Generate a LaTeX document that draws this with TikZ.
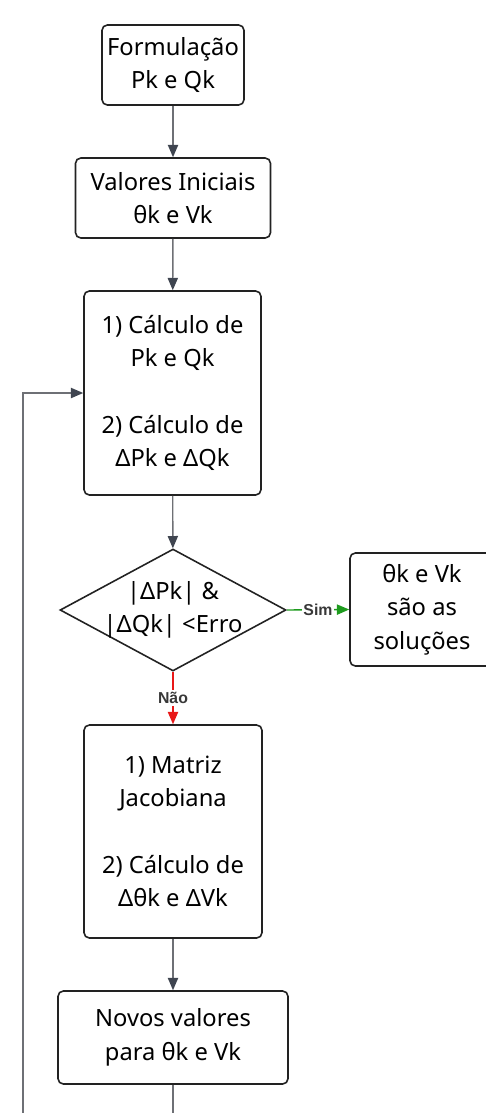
\documentclass[tikz,border=0pt]{standalone}
\usepackage{fontspec}
\setmainfont{Noto Sans}
\newfontfamily\edgefont{Liberation Sans}
\usepackage{tikz}
\usetikzlibrary{shapes.geometric,arrows.meta,positioning}
\definecolor{fcline}{HTML}{6E7075}
\definecolor{fctip}{HTML}{3F4550}
\definecolor{fcedge}{HTML}{222222}
\definecolor{fcgreen}{HTML}{1E9B1E}
\definecolor{fcred}{HTML}{E81818}
\definecolor{fclabel}{HTML}{383838}
\tikzset{
    box/.style={
        rectangle, rounded corners=3pt,
        draw=fcedge, line width=0.9pt, fill=white,
        align=center, inner sep=0pt,
        font=\fontsize{13.5}{19}\selectfont
    },
    decision/.style={
        diamond, aspect=1.85,
        draw=fcedge, line width=0.9pt, fill=white,
        align=center, inner sep=-4pt,
        minimum width=4.52cm, minimum height=2.44cm,
        font=\fontsize{13.5}{19}\selectfont
    },
    arrow/.style={-{Triangle[width=5.8pt,length=7pt,color=fctip]}, line width=0.8pt, draw=fcline},
    yesarrow/.style={-{Triangle[width=5.8pt,length=7pt]}, line width=0.8pt, draw=fcgreen},
    noarrow/.style={-{Triangle[width=5.8pt,length=7pt]}, line width=0.8pt, draw=fcred},
    edgelabel/.style={font=\edgefont\bfseries\fontsize{9}{10}\selectfont, text=fclabel, fill=white, inner sep=1pt},
}

\begin{document}
\begin{tikzpicture}[x=0.02cm, y=-0.02cm]

    \useasboundingbox (0,0) rectangle (486,1113);
    \clip (0,0) rectangle (486,1113);

    % Nodes
    \node[box, minimum width=2.84cm, minimum height=1.6cm] (form) at (173,65)
        {Formulação\\Pk e Qk};

    \node[box, minimum width=3.9cm, minimum height=1.6cm] (init) at (173,198)
        {Valores Iniciais\\θk e Vk};

    \node[box, minimum width=3.54cm, minimum height=4.08cm] (calc) at (172.5,393)
        {1) Cálculo de\\Pk e Qk\\[19pt]2) Cálculo de\\ΔPk e ΔQk};

    \node[decision] (test) at (173,610)
        {|ΔPk| \&\\|ΔQk| <Erro};

    \node[box, minimum width=2.88cm, minimum height=2.26cm] (sol) at (422,609.5)
        {θk e Vk\\são as\\soluções};

    \node[box, minimum width=3.56cm, minimum height=4.26cm] (jac) at (173,831.5)
        {1) Matriz\\Jacobiana\\[19pt]2) Cálculo de\\Δθk e ΔVk};

    \node[box, minimum width=4.6cm, minimum height=1.86cm] (novos) at (173,1037.5)
        {Novos valores\\para θk e Vk};

    % Loop corner (below the visible frame)
    \coordinate (loop) at (23,1150);

    % Arrows (main flow)
    \draw[arrow] (form) -- (init);
    \draw[arrow] (init) -- (calc);
    \draw[arrow] (calc) -- (test);
    \draw[arrow] (jac) -- (novos);

    % Arrows (decision)
    \draw[yesarrow] (test.east) -- node[edgelabel] {Sim} (sol.west);
    \draw[noarrow] (test.south) -- node[edgelabel] {Não} (jac.north);

    % Arrow (iteration loop)
    \draw[arrow] (novos.south) -- (novos.south |- loop) -- (loop) |- (calc.west);

\end{tikzpicture}
\end{document}
